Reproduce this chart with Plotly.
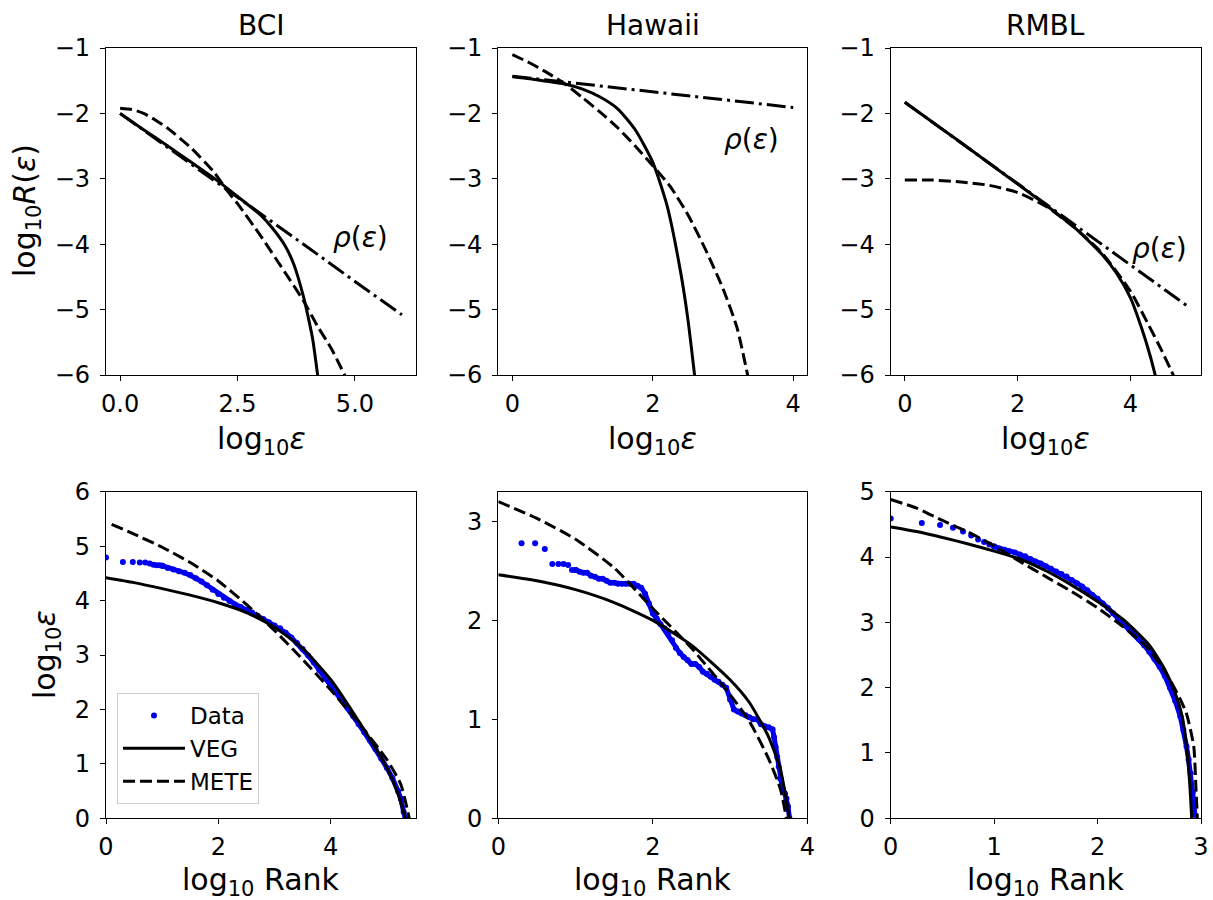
import plotly.graph_objects as go
from plotly.subplots import make_subplots

FONT = "DejaVu Sans"

# ---------------- Top row: log10 R(eps) vs log10 eps ----------------
sites = ["BCI", "Hawaii", "RMBL"]

bci_veg_x = [0, 0.5, 1.0, 1.5, 2.0, 2.5, 3.0, 3.25, 3.5, 3.7, 3.9, 4.0, 4.1, 4.22]
bci_veg_y = [-2.00, -2.25, -2.49, -2.74, -2.99, -3.27, -3.56, -3.76, -4.01, -4.31, -4.79, -5.10, -5.45, -6.08]
bci_mete_x = [0, 0.25, 0.5, 0.75, 1.0, 1.5, 2.0, 2.3, 2.5, 3.0, 3.5, 3.9, 4.2, 4.5, 4.8]
bci_mete_y = [-1.92, -1.94, -2.00, -2.10, -2.22, -2.52, -2.90, -3.20, -3.38, -3.88, -4.42, -4.86, -5.25, -5.60, -6.03]
bci_rho_x = [0, 1, 2, 3, 4, 5, 6]
bci_rho_y = [-2.00, -2.51, -3.03, -3.54, -4.05, -4.57, -5.08]

haw_veg_x = [0, 0.25, 0.5, 0.75, 1.0, 1.25, 1.5, 1.75, 2.0, 2.2, 2.4, 2.5, 2.6]
haw_veg_y = [-1.44, -1.47, -1.51, -1.55, -1.63, -1.75, -1.93, -2.25, -2.75, -3.40, -4.45, -5.15, -6.05]
haw_mete_x = [0, 0.25, 0.5, 0.75, 1.0, 1.25, 1.5, 1.75, 2.0, 2.25, 2.5, 2.75, 3.0, 3.2, 3.36]
haw_mete_y = [-1.10, -1.23, -1.38, -1.55, -1.76, -1.98, -2.22, -2.50, -2.80, -3.12, -3.55, -4.08, -4.68, -5.28, -6.05]
haw_rho_x = [0, 1, 2, 3, 4]
haw_rho_y = [-1.43, -1.55, -1.67, -1.79, -1.91]

rmb_veg_x = [0, 1.0, 2.0, 2.5, 3.0, 3.5, 3.75, 4.0, 4.2, 4.35, 4.45]
rmb_veg_y = [-1.83, -2.45, -3.08, -3.40, -3.74, -4.16, -4.44, -4.82, -5.29, -5.71, -6.04]
rmb_mete_x = [0, 0.5, 1.0, 1.5, 2.0, 2.5, 3.0, 3.5, 4.0, 4.3, 4.55, 4.78]
rmb_mete_y = [-3.02, -3.02, -3.05, -3.10, -3.21, -3.42, -3.74, -4.14, -4.72, -5.20, -5.62, -6.04]
rmb_rho_x = [0, 1, 2, 3, 4, 5]
rmb_rho_y = [-1.83, -2.45, -3.07, -3.70, -4.32, -4.94]

# ---------------- Bottom row: log10 eps vs log10 rank ----------------
bci_rank_veg_x = [0, 0.5, 1.0, 1.5, 2.0, 2.5, 3.0, 3.5, 4.0, 4.5, 5.0, 5.2, 5.33]
bci_rank_veg_y = [4.42, 4.33, 4.22, 4.10, 3.96, 3.78, 3.51, 3.12, 2.55, 1.78, 0.93, 0.45, 0.0]
bci_rank_mete_x = [0.1, 0.5, 1.0, 1.5, 2.0, 2.5, 3.0, 3.5, 4.0, 4.5, 5.0, 5.25, 5.4]
bci_rank_mete_y = [5.40, 5.22, 4.98, 4.70, 4.36, 3.93, 3.45, 2.92, 2.36, 1.75, 1.08, 0.62, 0.0]
bci_data_x = [0.0, 0.301, 0.477, 0.602, 0.699, 0.778, 0.845, 0.903, 0.954, 1.0,
              1.1, 1.2, 1.3, 1.4, 1.5, 1.6, 1.7, 1.8, 1.9, 2.0, 2.1, 2.2, 2.3, 2.4, 2.5,
              2.6, 2.7, 2.8, 2.9, 3.0, 3.1, 3.2, 3.3, 3.4, 3.5, 3.6, 3.7, 3.8, 3.9, 4.0,
              4.1, 4.2, 4.3, 4.4, 4.5, 4.6, 4.7, 4.8, 4.9, 5.0, 5.1, 5.2, 5.25, 5.3, 5.33]
bci_data_y = [4.79, 4.71, 4.71, 4.70, 4.70, 4.68, 4.66, 4.65, 4.65, 4.64,
              4.60, 4.57, 4.54, 4.51, 4.47, 4.41, 4.35, 4.28, 4.20, 4.12, 4.05, 3.99, 3.93, 3.88, 3.83,
              3.78, 3.72, 3.66, 3.60, 3.54, 3.49, 3.41, 3.32, 3.22, 3.11, 2.99, 2.86, 2.72, 2.58, 2.46,
              2.32, 2.18, 2.03, 1.88, 1.73, 1.58, 1.43, 1.27, 1.10, 0.93, 0.74, 0.50, 0.36, 0.12, 0.0]

haw_rank_veg_x = [0, 0.5, 1.0, 1.5, 2.0, 2.5, 3.0, 3.25, 3.5, 3.65, 3.77]
haw_rank_veg_y = [2.46, 2.40, 2.31, 2.18, 2.00, 1.75, 1.40, 1.17, 0.82, 0.50, 0.0]
haw_rank_mete_x = [0, 0.5, 1.0, 1.5, 2.0, 2.5, 3.0, 3.25, 3.5, 3.65, 3.73]
haw_rank_mete_y = [3.20, 3.03, 2.82, 2.53, 2.12, 1.72, 1.25, 0.98, 0.60, 0.30, 0.0]
haw_data_x = [0.301, 0.477, 0.602, 0.699, 0.778, 0.845, 0.903, 0.954, 1.00,
              1.05, 1.10, 1.15, 1.20, 1.25, 1.30, 1.35, 1.40, 1.45, 1.50, 1.55, 1.60, 1.65,
              1.70, 1.75, 1.80, 1.85, 1.90, 1.95, 2.00, 2.05, 2.10, 2.15, 2.20, 2.25, 2.30,
              2.35, 2.40, 2.45, 2.50, 2.55, 2.60, 2.65, 2.70, 2.75, 2.80, 2.85, 2.90, 2.95,
              3.00, 3.05, 3.10, 3.15, 3.20, 3.25, 3.30, 3.35, 3.40, 3.45, 3.50, 3.55, 3.57,
              3.59, 3.61, 3.63, 3.65, 3.68, 3.71, 3.73, 3.75, 3.77]
haw_data_y = [2.78, 2.78, 2.72, 2.57, 2.57, 2.57, 2.56, 2.51, 2.51,
              2.49, 2.48, 2.48, 2.45, 2.44, 2.42, 2.42, 2.40, 2.38, 2.38, 2.37, 2.37, 2.37,
              2.37, 2.37, 2.35, 2.33, 2.27, 2.17, 2.07, 2.02, 1.96, 1.92, 1.86, 1.80, 1.72,
              1.67, 1.63, 1.60, 1.56, 1.56, 1.53, 1.48, 1.46, 1.43, 1.40, 1.38, 1.35, 1.32,
              1.20, 1.10, 1.08, 1.06, 1.04, 1.02, 1.00, 1.00, 0.95, 0.93, 0.92, 0.90, 0.82,
              0.72, 0.62, 0.52, 0.40, 0.30, 0.25, 0.20, 0.12, 0.0]

rmb_rank_veg_x = [0, 0.25, 0.5, 0.75, 1.0, 1.25, 1.5, 1.75, 2.0, 2.25, 2.5, 2.65, 2.75, 2.82, 2.86, 2.89, 2.91]
rmb_rank_veg_y = [4.46, 4.39, 4.30, 4.20, 4.09, 3.97, 3.79, 3.57, 3.32, 3.04, 2.65, 2.28, 1.92, 1.55, 1.10, 0.55, 0.0]
rmb_rank_mete_x = [0, 0.25, 0.5, 0.75, 1.0, 1.25, 1.5, 1.75, 2.0, 2.25, 2.5, 2.7, 2.8, 2.86, 2.93, 2.95, 2.965]
rmb_rank_mete_y = [4.88, 4.75, 4.56, 4.38, 4.17, 3.93, 3.70, 3.47, 3.22, 2.93, 2.58, 2.12, 1.82, 1.60, 1.10, 0.50, 0.0]
rmb_data_x = [0.000, 0.301, 0.477, 0.602, 0.699, 0.778, 0.845, 0.903, 0.954, 1.000,
              1.05, 1.10, 1.15, 1.20, 1.25, 1.30, 1.35, 1.40, 1.45, 1.50, 1.55, 1.60, 1.65,
              1.70, 1.75, 1.80, 1.85, 1.90, 1.95, 2.00, 2.05, 2.10, 2.15, 2.20, 2.25, 2.30,
              2.35, 2.40, 2.45, 2.50, 2.55, 2.60, 2.65, 2.70, 2.75, 2.80, 2.83, 2.86, 2.88,
              2.90, 2.92, 2.93, 2.94]
rmb_data_y = [4.59, 4.52, 4.49, 4.45, 4.39, 4.33, 4.27, 4.23, 4.19, 4.16,
              4.13, 4.11, 4.09, 4.07, 4.04, 4.01, 3.97, 3.93, 3.90, 3.86, 3.82, 3.78, 3.74,
              3.70, 3.65, 3.60, 3.55, 3.49, 3.42, 3.36, 3.29, 3.22, 3.14, 3.06, 2.98, 2.90,
              2.82, 2.74, 2.65, 2.55, 2.44, 2.32, 2.18, 2.00, 1.80, 1.56, 1.35, 1.10, 0.90,
              0.69, 0.40, 0.25, 0.05]

# number of sparse (individually visible) leading data points per site
bci_sparse_n = 10
haw_sparse_n = 9
rmb_sparse_n = 10

# ---------------- axis settings ----------------
top_xranges = [[-0.3, 6.3], [-0.2, 4.2], [-0.25, 5.25]]
top_xticks = [[0, 2.5, 5.0], [0, 2, 4], [0, 2, 4]]
top_xticktext = [["0.0", "2.5", "5.0"], ["0", "2", "4"], ["0", "2", "4"]]
top_yrange = [-6, -1]
top_yticks = [-6, -5, -4, -3, -2, -1]

bot_xranges = [[0, 5.52], [0, 4], [0, 3]]
bot_xticks = [[0, 2, 4], [0, 2, 4], [0, 1, 2, 3]]
bot_yranges = [[0, 6], [0, 3.3], [0, 5]]
bot_yticks = [[0, 1, 2, 3, 4, 5, 6], [0, 1, 2, 3], [0, 1, 2, 3, 4, 5]]

rho_pos = [(5.12, -3.9), (3.4, -2.4), (4.52, -4.06)]

W, H = 1213, 900
col_px = [(106, 416), (498.3, 807.3), (890.7, 1201)]
row_px = [(48, 375), (491.7, 818.3)]

fig = make_subplots(rows=2, cols=3)

LW = 3.0
DASH = "12px,5px"
DASHDOT = "19px,5px,3px,5px"

top_sets = [
    (bci_veg_x, bci_veg_y, bci_mete_x, bci_mete_y, bci_rho_x, bci_rho_y),
    (haw_veg_x, haw_veg_y, haw_mete_x, haw_mete_y, haw_rho_x, haw_rho_y),
    (rmb_veg_x, rmb_veg_y, rmb_mete_x, rmb_mete_y, rmb_rho_x, rmb_rho_y),
]
for c, (vx, vy, mx, my, rx, ry) in enumerate(top_sets, start=1):
    fig.add_trace(go.Scatter(x=rx, y=ry, mode="lines", line=dict(color="black", width=LW, dash=DASHDOT),
                             showlegend=False), row=1, col=c)
    fig.add_trace(go.Scatter(x=vx, y=vy, mode="lines", line=dict(color="black", width=LW, shape="spline", smoothing=0.6),
                             showlegend=False), row=1, col=c)
    fig.add_trace(go.Scatter(x=mx, y=my, mode="lines", line=dict(color="black", width=LW, dash=DASH, shape="spline", smoothing=0.6),
                             showlegend=False), row=1, col=c)

bot_sets = [
    (bci_data_x, bci_data_y, bci_sparse_n, bci_rank_veg_x, bci_rank_veg_y, bci_rank_mete_x, bci_rank_mete_y),
    (haw_data_x, haw_data_y, haw_sparse_n, haw_rank_veg_x, haw_rank_veg_y, haw_rank_mete_x, haw_rank_mete_y),
    (rmb_data_x, rmb_data_y, rmb_sparse_n, rmb_rank_veg_x, rmb_rank_veg_y, rmb_rank_mete_x, rmb_rank_mete_y),
]
BLUE = "#0000ee"
for c, (dx, dy, ns, vx, vy, mx, my) in enumerate(bot_sets, start=1):
    first = c == 1
    fig.add_trace(go.Scatter(x=dx[:ns], y=dy[:ns], mode="markers", name="Data",
                             marker=dict(color=BLUE, size=6), showlegend=first), row=2, col=c)
    fig.add_trace(go.Scatter(x=dx[ns - 1:], y=dy[ns - 1:], mode="lines+markers",
                             marker=dict(color=BLUE, size=6), line=dict(color=BLUE, width=5),
                             showlegend=False), row=2, col=c)
    fig.add_trace(go.Scatter(x=vx, y=vy, mode="lines", name="VEG",
                             line=dict(color="black", width=LW, shape="spline", smoothing=0.6),
                             showlegend=first), row=2, col=c)
    fig.add_trace(go.Scatter(x=mx, y=my, mode="lines", name="METE",
                             line=dict(color="black", width=LW, dash=DASH, shape="spline", smoothing=0.6),
                             showlegend=first), row=2, col=c)

TICKFONT = dict(family=FONT, size=24, color="black")
axis_common = dict(showline=True, linecolor="black", linewidth=1.3, mirror=True,
                   ticks="outside", ticklen=5, tickwidth=1.3, tickcolor="black",
                   showgrid=False, zeroline=False, tickfont=TICKFONT, automargin=False)

def minus(v):
    s = ("%g" % v)
    return s.replace("-", "\u2212")

for c in range(1, 4):
    i = c - 1
    xd = [col_px[i][0] / W, col_px[i][1] / W]
    yd_top = [1 - row_px[0][1] / H, 1 - row_px[0][0] / H]
    yd_bot = [1 - row_px[1][1] / H, 1 - row_px[1][0] / H]
    fig.update_xaxes(row=1, col=c, domain=xd, range=top_xranges[i], tickvals=top_xticks[i],
                     ticktext=top_xticktext[i], ticklabelstandoff=2, **axis_common)
    fig.update_yaxes(row=1, col=c, domain=yd_top, range=top_yrange, tickvals=top_yticks,
                     ticktext=[minus(v) for v in top_yticks], ticklabelstandoff=5, **axis_common)
    fig.update_xaxes(row=2, col=c, domain=xd, range=bot_xranges[i], tickvals=bot_xticks[i],
                     ticktext=[minus(v) for v in bot_xticks[i]], ticklabelstandoff=2, **axis_common)
    fig.update_yaxes(row=2, col=c, domain=yd_bot, range=bot_yranges[i], tickvals=bot_yticks[i],
                     ticktext=[minus(v) for v in bot_yticks[i]], ticklabelstandoff=5, **axis_common)

annotations = []
LABEL = dict(family=FONT, size=30, color="black")
for i, name in enumerate(sites):
    cx = (col_px[i][0] + col_px[i][1]) / 2 / W
    annotations.append(dict(text=name, x=cx, y=1 - 26 / H, xref="paper", yref="paper",
                            showarrow=False, xanchor="center", yanchor="middle",
                            font=dict(family=FONT, size=28, color="black")))
    annotations.append(dict(text="log<sub>10</sub><i>ε</i>", x=cx, y=1 - 440 / H, xref="paper", yref="paper",
                            showarrow=False, xanchor="center", yanchor="middle", font=LABEL))
    annotations.append(dict(text="log<sub>10</sub> Rank", x=cx, y=1 - 881 / H, xref="paper", yref="paper",
                            showarrow=False, xanchor="center", yanchor="middle", font=LABEL))
    xr = "x" if i == 0 else "x%d" % (i + 1)
    yr = "y" if i == 0 else "y%d" % (i + 1)
    annotations.append(dict(text="<i>ρ</i>(<i>ε</i>)", x=rho_pos[i][0], y=rho_pos[i][1], xref=xr, yref=yr,
                            showarrow=False, xanchor="center", yanchor="middle",
                            font=dict(family=FONT, size=28, color="black")))

annotations.append(dict(text="log<sub>10</sub><i>R</i>(<i>ε</i>)", x=26 / W, y=1 - 211 / H, xref="paper", yref="paper",
                        showarrow=False, xanchor="center", yanchor="middle", textangle=-90, font=LABEL))
annotations.append(dict(text="log<sub>10</sub><i>ε</i>", x=46 / W, y=1 - 655 / H, xref="paper", yref="paper",
                        showarrow=False, xanchor="center", yanchor="middle", textangle=-90, font=LABEL))

fig.update_layout(
    width=W, height=H,
    margin=dict(l=0, r=0, t=0, b=0),
    paper_bgcolor="white", plot_bgcolor="white",
    annotations=annotations,
    showlegend=True,
    legend=dict(x=117 / W, y=1 - 693 / H, xanchor="left", yanchor="top",
                bgcolor="rgba(255,255,255,0.8)", bordercolor="#cccccc", borderwidth=1,
                font=dict(family=FONT, size=23, color="black"), itemwidth=62,
                tracegroupgap=0),
    font=dict(family=FONT),
)

fig.write_html("out.html", config={"displayModeBar": False},
               post_script="document.body.style.margin='0';document.body.style.padding='0';")
